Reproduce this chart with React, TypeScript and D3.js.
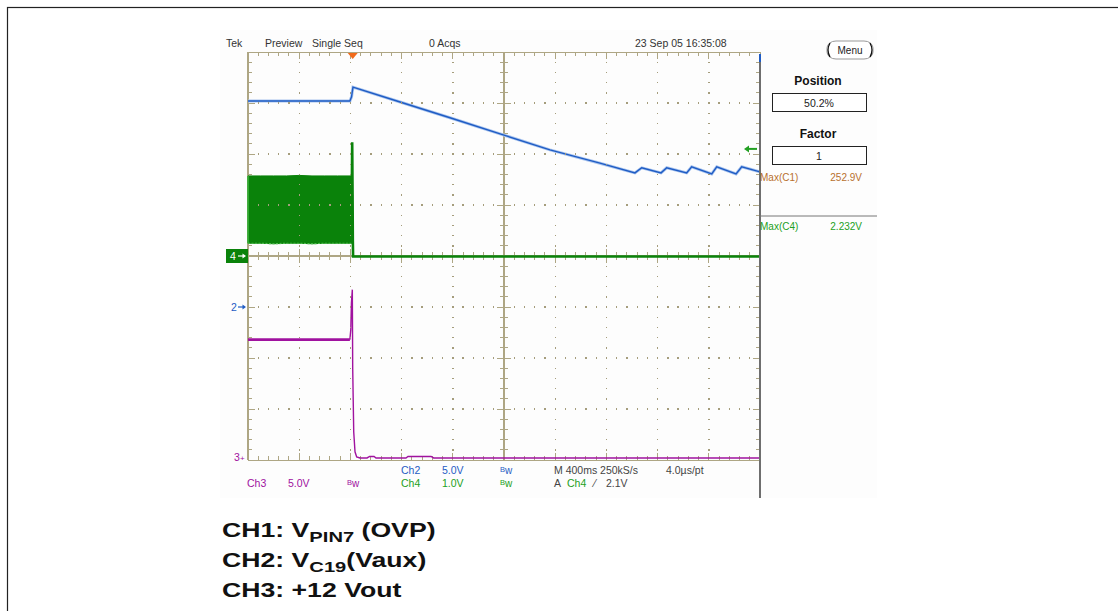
import React from "react";
import * as d3 from "d3";

// ---- data (time in ms from left screen edge, 400 ms/div) ----
const ch1Time = [0, 796, 809, 820, 1188, 1578, 2000, 2359, 2750, 3023, 3076, 3227, 3271, 3427, 3466, 3623, 3662, 3813, 3857, 4000];
const ch1Div = [3.04, 3.04, 3.12, 3.31, 3.02, 2.71, 2.37, 2.08, 1.82, 1.63, 1.73, 1.63, 1.73, 1.63, 1.75, 1.61, 1.75, 1.61, 1.75, 1.65];

const ch3Time = [0, 796, 803, 808, 815, 818, 826, 836, 849, 875, 930, 950, 985, 1000, 1234, 1250, 1430, 1450, 4000];
const ch3Volt = [11.6, 11.6, 12.6, 15.2, 16.5, 8.8, 2.55, 0.6, 0.1, 0.0, 0.0, 0.15, 0.15, 0.0, 0.0, 0.15, 0.15, 0.0, 0.0];

const burstTime = [0, 100, 200, 300, 400, 500, 600, 700, 812];
const burstLow = [0.25, 0.25, 0.24, 0.25, 0.25, 0.24, 0.25, 0.25, 0.25];
const burstHigh = [1.57, 1.57, 1.57, 1.57, 1.58, 1.57, 1.57, 1.57, 1.57];
const ch4Time = [812, 814, 817, 819, 821, 4000];
const ch4Volt = [1.57, 2.23, 1.2, 0.3, -0.01, -0.01];

const headerItems = ["Tek", "Preview", "Single Seq", "0 Acqs", "23 Sep 05 16:35:08"];
const labelLines = [
  { main: "CH1: V", sub: "PIN7", rest: " (OVP)" },
  { main: "CH2: V", sub: "C19", rest: "(Vaux)" },
  { main: "CH3: +12 Vout", sub: "", rest: "" },
];

const X0 = 248, X1 = 760, Y0 = 52, Y1 = 460;
const x = d3.scaleLinear().domain([0, 4000]).range([X0, X1]);
const xd = d3.scaleLinear().domain([0, 10]).range([X0, X1]);
const yd = d3.scaleLinear().domain([-4, 4]).range([Y1, Y0]);
const ch4Y = (v: number) => yd(v / 1.0);
const ch3Y = (v: number) => yd(v / 5.0 - 3.96);

const GRAT = "#aea684";
const DOT = "#a59d7c";
const BLUE = "#1f5cc4";
const PURPLE = "#a0129f";
const GREEN = "#0a820a";
const LGREEN = "#22a022";
const BROWN = "#b8702e";
const FONT = "'Liberation Sans', Arial, sans-serif";

export default function App() {
  const minor = d3.range(0, 50.01, 1).map((i) => i / 5);
  const minorY = d3.range(0, 40.01, 1).map((i) => i / 5 - 4);
  const ticks: JSX.Element[] = [];
  let k = 0;
  minor.forEach((d) => {
    const isMaj = Math.abs(d - Math.round(d)) < 1e-6;
    const px = xd(d);
    ticks.push(<line key={k++} x1={px} x2={px} y1={Y0} y2={Y0 + (isMaj ? 7 : 4)} />);
    ticks.push(<line key={k++} x1={px} x2={px} y1={Y1} y2={Y1 - (isMaj ? 7 : 4)} />);
    ticks.push(<line key={k++} x1={px} x2={px} y1={yd(0) - (isMaj ? 7 : 4)} y2={yd(0) + (isMaj ? 7 : 4)} />);
  });
  minorY.forEach((d) => {
    const isMaj = Math.abs(d - Math.round(d)) < 1e-6;
    const py = yd(d);
    ticks.push(<line key={k++} x1={X0} x2={X0 + (isMaj ? 7 : 4)} y1={py} y2={py} />);
    ticks.push(<line key={k++} x1={X1} x2={X1 - (isMaj ? 7 : 4)} y1={py} y2={py} />);
    ticks.push(<line key={k++} x1={xd(5) - (isMaj ? 7 : 4)} x2={xd(5) + (isMaj ? 7 : 4)} y1={py} y2={py} />);
  });

  const dots: JSX.Element[] = [];
  [1, 2, 3, 4, 6, 7, 8, 9].forEach((c) => {
    minorY.forEach((d) => {
      if (d <= -4 || d >= 4 || Math.abs(d) < 1e-6) return;
      dots.push(<rect key={k++} x={xd(c) - 0.6} y={yd(d) - 0.6} width={1.3} height={1.3} />);
    });
  });
  [-3, -2, -1, 1, 2, 3].forEach((r) => {
    minor.forEach((d) => {
      if (d <= 0 || d >= 10 || Math.abs(d - 5) < 1e-6) return;
      dots.push(<rect key={k++} x={xd(d) - 0.6} y={yd(r) - 0.6} width={1.3} height={1.3} />);
    });
  });

  const ch1Line = d3.line<number>().x((_, i) => x(ch1Time[i])).y((v) => yd(v))(ch1Div) || "";
  const ch3Pre = d3.line<number>().x((_, i) => x(ch3Time[i])).y((v) => ch3Y(v))(ch3Volt.slice(0, 2)) || "";
  const ch3Line = d3.line<number>().x((_, i) => x(ch3Time[i + 1])).y((v) => ch3Y(v))(ch3Volt.slice(1)) || "";
  const burst = d3.area<number>().x((_, i) => x(burstTime[i])).y0((_, i) => ch4Y(burstLow[i])).y1((v) => ch4Y(v))(burstHigh) || "";
  const burstBottom = d3.line<number>().x((_, i) => x(burstTime[i])).y((v) => ch4Y(v))(burstLow) || "";
  const ch4Line = d3.line<number>().x((_, i) => x(ch4Time[i])).y((v) => ch4Y(v))(ch4Volt) || "";

  const hdrX = [226, 265, 312, 429, 635];
  const txt = { fontFamily: FONT, fontSize: 10.5 } as const;

  const bw = (px: number, py: number, col: string, key: string) => (
    <text key={key} x={px} y={py} fill={col} style={txt}>
      <tspan fontSize={7.5} dy={-2}>B</tspan>
      <tspan fontSize={10} dy={2}>w</tspan>
    </text>
  );

  const arrow = (x0: number, yy: number, col: string) => (
    <g>
      <line x1={x0} x2={x0 + 6} y1={yy} y2={yy} stroke={col} strokeWidth={1.2} />
      <path d={`M${x0 + 8},${yy} L${x0 + 4.5},${yy - 2.5} L${x0 + 4.5},${yy + 2.5} Z`} fill={col} />
    </g>
  );

  return (
    <svg width={1118} height={611} style={{ position: "absolute", left: 0, top: 0, background: "#fff" }}>
      <rect x={7.5} y={7.5} width={1130} height={640} fill="none" stroke="#222" strokeWidth={1.2} />
      <rect x={220} y={30} width={657} height={468} fill="#fdfdfd" />

      {headerItems.map((h, i) => (
        <text key={h} x={hdrX[i]} y={47} fill="#333" style={txt}>{h}</text>
      ))}

      <g stroke={GRAT} strokeWidth={1} shapeRendering="crispEdges">
        <line x1={X0} x2={X1} y1={Y0} y2={Y0} />
        <line x1={X0} x2={X1} y1={Y1} y2={Y1} />
        <line x1={X0} x2={X0} y1={Y0} y2={Y1} strokeWidth={1.5} />
        <line x1={X0} x2={X1} y1={yd(0)} y2={yd(0)} strokeWidth={1.5} />
        <line x1={xd(5)} x2={xd(5)} y1={Y0} y2={Y1} strokeWidth={1.5} />
        {ticks}
      </g>

      <path d={burst} fill={GREEN} stroke={GREEN} strokeWidth={1} />
      <path d={burstBottom} fill="none" stroke="#4cbc4c" strokeWidth={1.2} strokeDasharray="2 1.5" />
      <line x1={x(0)} x2={x(0)} y1={ch4Y(burstHigh[0])} y2={ch4Y(burstLow[0])} stroke="#3cb43c" strokeWidth={1.5} />
      <path d={ch4Line} fill="none" stroke={GREEN} strokeWidth={2.6} />
      <path d={ch1Line} fill="none" stroke="#a9c4ee" strokeWidth={3} />
      <path d={ch1Line} fill="none" stroke={BLUE} strokeWidth={1.4} />
      <path d={ch3Pre} fill="none" stroke={PURPLE} strokeWidth={2.8} />
      <path d={ch3Line} fill="none" stroke={PURPLE} strokeWidth={1.4} />

      <g fill={DOT} shapeRendering="crispEdges">{dots}</g>

      <line x1={760} x2={760} y1={56} y2={498} stroke="#6e6e6e" strokeWidth={2} />
      <line x1={760} x2={760} y1={54} y2={62} stroke={BLUE} strokeWidth={2} />
      <line x1={760} x2={877} y1={216} y2={216} stroke="#777" strokeWidth={1} />

      <path d={`M${x(818) - 5},${Y0 + 1} L${x(818) + 5},${Y0 + 1} L${x(818)},${Y0 + 7} Z`} fill="#f26a1b" />
      <g stroke={LGREEN} fill={LGREEN}>
        <line x1={747} x2={757} y1={ch4Y(2.1)} y2={ch4Y(2.1)} strokeWidth={2} />
        <path d={`M${744},${ch4Y(2.1)} L${749},${ch4Y(2.1) - 3.5} L${749},${ch4Y(2.1) + 3.5} Z`} stroke="none" />
      </g>

      <rect x={226} y={yd(0) - 7} width={22} height={14} fill={GREEN} />
      <text x={230} y={yd(0) + 4} fill="#fff" style={txt}>4</text>
      {arrow(238, yd(0), "#fff")}
      <text x={231} y={yd(-1) + 4} fill={BLUE} style={txt}>2</text>
      {arrow(238, yd(-1), BLUE)}
      <text x={234} y={ch3Y(0) + 3} fill={PURPLE} style={txt}>3</text>
      <text x={240} y={ch3Y(0) + 3} fill={PURPLE} style={{ fontFamily: FONT, fontSize: 8 }}>+</text>

      <text x={401} y={474} fill={BLUE} style={txt}>Ch2</text>
      <text x={442} y={474} fill={BLUE} style={txt}>5.0V</text>
      {bw(500, 474, BLUE, "bw1")}
      <text x={554} y={474} fill="#444" style={txt}>M 400ms 250kS/s</text>
      <text x={666} y={474} fill="#444" style={txt}>4.0µs/pt</text>
      <text x={247} y={487} fill={PURPLE} style={txt}>Ch3</text>
      <text x={288} y={487} fill={PURPLE} style={txt}>5.0V</text>
      {bw(347, 487, PURPLE, "bw2")}
      <text x={401} y={487} fill={LGREEN} style={txt}>Ch4</text>
      <text x={442} y={487} fill={LGREEN} style={txt}>1.0V</text>
      {bw(500, 487, LGREEN, "bw3")}
      <text x={554} y={487} fill="#444" style={txt}>A</text>
      <text x={567} y={487} fill={LGREEN} style={txt}>Ch4</text>
      <text x={594} y={487} fill="#444" style={txt}>⁄</text>
      <text x={606} y={487} fill="#444" style={txt}>2.1V</text>

      <rect x={827} y={41} width={46} height={18} rx={9} ry={7} fill="#fff" stroke="#999" strokeWidth={1} />
      <path d="M830,43 Q826,50 830,57" fill="none" stroke="#111" strokeWidth={1.3} />
      <path d="M870,43 Q874,50 870,57" fill="none" stroke="#111" strokeWidth={1.3} />
      <text x={850} y={54} textAnchor="middle" fill="#222" style={{ fontFamily: FONT, fontSize: 10 }}>Menu</text>
      <text x={818} y={85} textAnchor="middle" fill="#111" style={{ fontFamily: FONT, fontSize: 12, fontWeight: "bold" }}>Position</text>
      <rect x={772.5} y={93.5} width={94} height={18} fill="#fff" stroke="#222" strokeWidth={1} />
      <text x={819} y={106.5} textAnchor="middle" fill="#222" style={txt}>50.2%</text>
      <text x={818} y={138} textAnchor="middle" fill="#111" style={{ fontFamily: FONT, fontSize: 12, fontWeight: "bold" }}>Factor</text>
      <rect x={772.5} y={146.5} width={94} height={18} fill="#fff" stroke="#222" strokeWidth={1} />
      <text x={819} y={159.5} textAnchor="middle" fill="#222" style={txt}>1</text>
      <text x={760} y={181} fill={BROWN} style={{ fontFamily: FONT, fontSize: 10 }}>Max(C1)</text>
      <text x={862} y={181} textAnchor="end" fill={BROWN} style={{ fontFamily: FONT, fontSize: 10 }}>252.9V</text>
      <text x={760} y={230} fill={LGREEN} style={{ fontFamily: FONT, fontSize: 10 }}>Max(C4)</text>
      <text x={862} y={230} textAnchor="end" fill={LGREEN} style={{ fontFamily: FONT, fontSize: 10 }}>2.232V</text>

      {labelLines.map((l, i) => (
        <g key={i} transform={`translate(222,${537 + i * 30}) scale(1.3,1)`}>
          <text x={0} y={0} fill="#111" style={{ fontFamily: FONT, fontSize: 20.5, fontWeight: "bold" }}>
            {l.main}
            {l.sub && <tspan fontSize={15.5} dy={5}>{l.sub}</tspan>}
            {l.rest && <tspan dy={l.sub ? -5 : 0}>{l.rest}</tspan>}
          </text>
        </g>
      ))}
    </svg>
  );
}
